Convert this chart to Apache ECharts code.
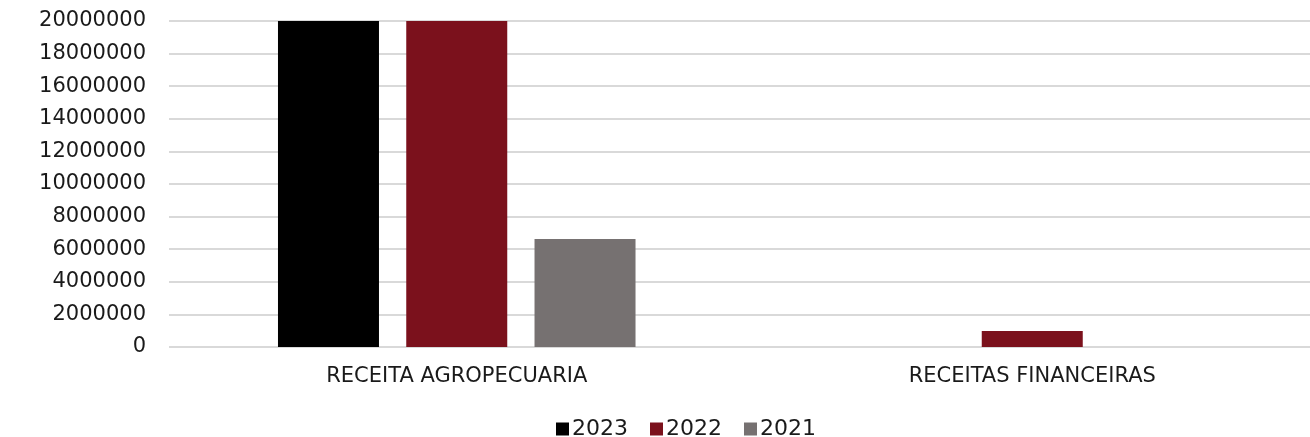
<!DOCTYPE html>
<html>
<head>
<meta charset="utf-8">
<script src="https://cdn.jsdelivr.net/npm/echarts@6/dist/echarts.min.js"></script>
<style>
  html, body { margin: 0; padding: 0; background: #fff; }
  #chart { width: 1310px; height: 437px; }
</style>
</head>
<body>
<div id="chart"></div>
<script>
const categories = ['RECEITA AGROPECUARIA', 'RECEITAS FINANCEIRAS']
const years = ['2023', '2022', '2021']
const values2023 = [27000000, 0]
const values2022 = [25000000, 980000]
const values2021 = [6630000, 0]
const colors = ['#000000', '#7b111c', '#767171']

const font = 'DejaVu Sans'
const chart = echarts.init(document.getElementById('chart'))

chart.setOption({
    animation: false,
    textStyle: { fontFamily: font },
    grid: { left: 169, width: 1151, top: 21, height: 326, outerBoundsMode: 'none', containLabel: false },
    legend: {
        top: 413,
        left: 551,
        itemWidth: 13,
        itemHeight: 13,
        itemGap: 22,
        icon: 'rect',
        textStyle: { fontSize: 22, color: '#1a1a1a', padding: [0, 0, 0, -2] },
        data: years,
    },
    xAxis: {
        type: 'category',
        data: categories,
        axisLine: { show: false },
        axisTick: { show: false },
        axisLabel: { fontSize: 21, color: '#1a1a1a', margin: 19 },
    },
    yAxis: {
        type: 'value',
        min: 0,
        max: 20000000,
        interval: 2000000,
        axisLine: { show: false },
        axisTick: { show: false },
        axisLabel: { fontSize: 21, color: '#1a1a1a', margin: 23, formatter: v => String(v) },
        splitLine: { lineStyle: { color: '#d9d9d9', width: 2 } },
    },
    series: [
        { name: years[0], type: 'bar', data: values2023, barWidth: 101, barGap: '27%', itemStyle: { color: colors[0] }, clip: true },
        { name: years[1], type: 'bar', data: values2022, barWidth: 101, barGap: '27%', itemStyle: { color: colors[1] }, clip: true },
        { name: years[2], type: 'bar', data: values2021, barWidth: 101, barGap: '27%', itemStyle: { color: colors[2] }, clip: true },
    ],
})
</script>
</body>
</html>
